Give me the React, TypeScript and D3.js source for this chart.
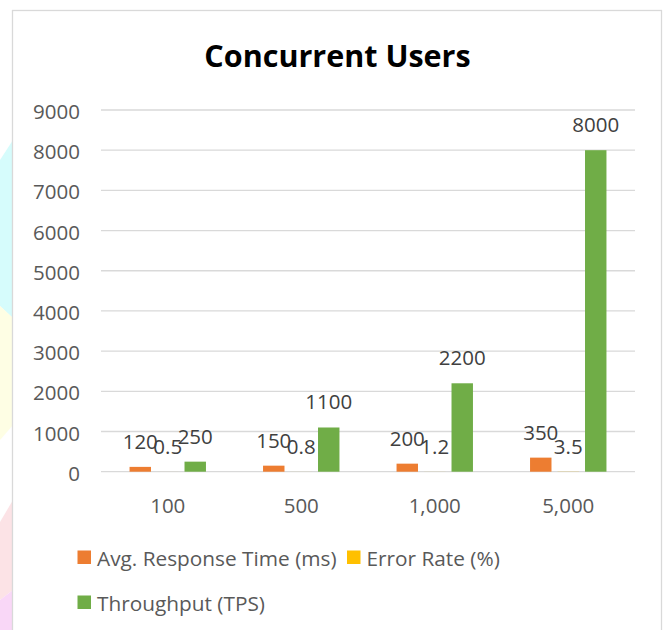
import React from "react";
import { scaleBand, scaleLinear } from "d3";

// chart data
const categories = ["100", "500", "1,000", "5,000"];
const responseTime = [120, 150, 200, 350];
const errorRate = [0.5, 0.8, 1.2, 3.5];
const throughput = [250, 1100, 2200, 8000];
const seriesNames = ["Avg. Response Time (ms)", "Error Rate (%)", "Throughput (TPS)"];
const seriesColors = ["#ED7D31", "#FFC000", "#70AD47"];
const yMax = 9000;

const FONT = "'Open Sans', sans-serif";

export default function App() {
  const width = 668;
  const height = 630;
  const plot = { left: 101, right: 635, top: 110, bottom: 471.7 };

  const series = [responseTime, errorRate, throughput];

  const x = scaleBand<string>()
    .domain(categories)
    .range([plot.left, plot.right]);

  const groupWidth = x.bandwidth() * 0.663;
  const xInner = scaleBand<number>()
    .domain(series.map((_, i) => i))
    .range([(x.bandwidth() - groupWidth) / 2, (x.bandwidth() + groupWidth) / 2])
    .padding(0.22);

  const y = scaleLinear().domain([0, yMax]).range([plot.bottom, plot.top]);
  const yTicks = y.ticks(10);

  return (
    <svg
      width={width}
      height={height}
      style={{ position: "absolute", left: 0, top: 0, background: "#fff" }}
    >
      {/* pastel backdrop peeking out on the left */}
      <polygon points="0,160 13,140 13,318 0,306" fill="#d6fcfc" />
      <polygon points="0,306 13,318 13,425 0,440" fill="#fefee4" />
      <polygon points="0,522 13,500 13,590 0,600" fill="#fce3e6" />
      <polygon points="0,600 13,590 13,630 0,630" fill="#f9d7f7" />

      {/* chart area */}
      <rect x={12.5} y={10.5} width={649} height={640} fill="#fff" stroke="#d9d9d9" strokeWidth={1.3} />

      <text
        x={337.5}
        y={67}
        textAnchor="middle"
        fontFamily={FONT}
        fontWeight="bold"
        fontSize={30.5}
        fill="#000"
      >
        Concurrent Users
      </text>

      {/* gridlines + y ticks */}
      {yTicks.map(t => (
        <g key={t}>
          <line x1={plot.left} x2={plot.right} y1={y(t)} y2={y(t)} stroke="#d9d9d9" strokeWidth={1.3} />
          <text
            x={80}
            y={y(t) + 1}
            textAnchor="end"
            dominantBaseline="central"
            fontFamily={FONT}
            fontSize={20.5}
            fill="#595959"
          >
            {t}
          </text>
        </g>
      ))}

      {/* bars */}
      {categories.map((c, ci) => (
        <g key={c} transform={`translate(${x(c)},0)`}>
          {series.map((vals, si) => (
            <rect
              key={si}
              x={xInner(si)}
              y={y(vals[ci])}
              width={xInner.bandwidth()}
              height={y(0) - y(vals[ci])}
              fill={seriesColors[si]}
            />
          ))}
          {series.map((vals, si) => (
            <text
              key={"l" + si}
              x={(xInner(si) as number) + xInner.bandwidth() / 2}
              y={y(vals[ci]) - 18}
              textAnchor="middle"
              fontFamily={FONT}
              fontSize={20.5}
              fill="#404040"
            >
              {vals[ci]}
            </text>
          ))}
          <text
            x={x.bandwidth() / 2}
            y={505}
            textAnchor="middle"
            dominantBaseline="central"
            fontFamily={FONT}
            fontSize={20.5}
            fill="#595959"
          >
            {c}
          </text>
        </g>
      ))}

      {/* legend */}
      {[
        { i: 0, x: 77.5, y: 557 },
        { i: 1, x: 347, y: 557 },
        { i: 2, x: 77.5, y: 602 },
      ].map(({ i, x: lx, y: ly }) => (
        <g key={i}>
          <rect x={lx} y={ly - 6.5} width={13.5} height={13.5} fill={seriesColors[i]} />
          <text
            x={lx + 19.5}
            y={ly + 1}
            dominantBaseline="central"
            fontFamily={FONT}
            fontSize={20.8}
            fill="#595959"
          >
            {seriesNames[i]}
          </text>
        </g>
      ))}
    </svg>
  );
}
